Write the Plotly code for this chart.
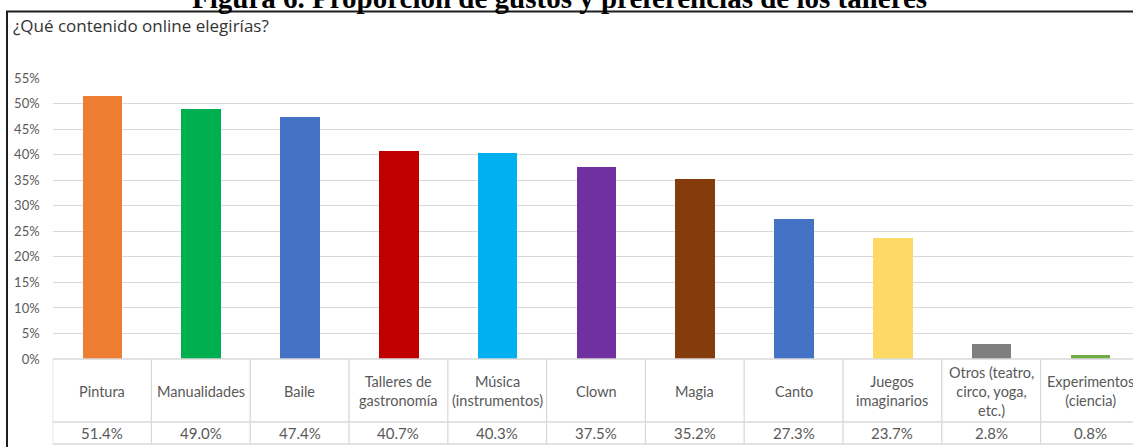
import plotly.graph_objects as go

# ---------------- data ----------------
categories = ["Pintura", "Manualidades", "Baile", "Talleres de gastronomía",
              "Música (instrumentos)", "Clown", "Magia", "Canto",
              "Juegos imaginarios", "Otros (teatro, circo, yoga, etc.)",
              "Experimentos (ciencia)"]
table_labels = ["Pintura", "Manualidades", "Baile", "Talleres de<br>gastronomía",
                "Música<br>(instrumentos)", "Clown", "Magia", "Canto",
                "Juegos<br>imaginarios", "Otros (teatro,<br>circo, yoga,<br>etc.)",
                "Experimentos<br>(ciencia)"]
values_pct = [51.4, 49.0, 47.4, 40.7, 40.3, 37.5, 35.2, 27.3, 23.7, 2.8, 0.8]
bar_colors = ["#ED7D31", "#00B050", "#4472C4", "#C00000", "#00B0F0", "#7030A0",
              "#843C0C", "#4472C4", "#FFD966", "#7F7F7F", "#70AD47"]
title_text = "Figura 6. Proporción de gustos y preferencias de los talleres"
subtitle_text = "¿Qué contenido online elegirías?"

# ---------------- geometry helpers ----------------
W, H = 1133, 447
def px(x):
    return x / W
def py(y):
    return 1 - y / H

plot_left = 52.6
cat_w = 98.8
x_range = [-0.5, -0.5 + (W - plot_left) / cat_w]
y_top_px, y_bot_px = 78.3, 359.0

TXT = "#595959"
GRID = "#D9D9D9"
FONT = "Lato, 'Open Sans', sans-serif"

fig = go.Figure()
fig.add_trace(go.Bar(
    x=list(range(len(categories))),
    y=[v / 100 for v in values_pct],
    marker=dict(color=bar_colors, line=dict(width=0)),
    width=0.4,
    hovertext=categories,
    showlegend=False,
))

shapes = []
# table horizontal lines
for yl in [y_bot_px, 422.0, 444.0]:
    shapes.append(dict(type="line", xref="x", yref="paper", x0=x_range[0], x1=x_range[1],
                       y0=py(yl), y1=py(yl), line=dict(color=GRID, width=1.3), layer="above"))
# table vertical lines
for i in range(len(categories) + 1):
    shapes.append(dict(type="line", xref="x", yref="paper", x0=i - 0.5, x1=i - 0.5,
                       y0=py(y_bot_px), y1=py(444.0), line=dict(color=GRID, width=1.3)))
# outer frame
shapes.append(dict(type="rect", xref="paper", yref="paper", x0=px(7), x1=px(W + 20),
                   y0=py(H + 20), y1=py(11.5), line=dict(color="#1E1E1E", width=2)))

annotations = []
for i, (lab, v) in enumerate(zip(table_labels, values_pct)):
    annotations.append(dict(x=i, y=py(391), xref="x", yref="paper", text=lab,
                            showarrow=False, xanchor="center", yanchor="middle",
                            font=dict(family=FONT, size=14.5, color=TXT)))
    annotations.append(dict(x=i, y=py(433), xref="x", yref="paper", text=f"{v:.1f}%",
                            showarrow=False, xanchor="center", yanchor="middle",
                            font=dict(family=FONT, size=15, color=TXT)))
annotations.append(dict(x=px(11), y=py(26), xref="paper", yref="paper", text=subtitle_text,
                        showarrow=False, xanchor="left", yanchor="middle",
                        font=dict(family="'Open Sans', sans-serif", size=17, color="#333333")))
annotations.append(dict(x=px(559), y=py(-2.0), xref="paper", yref="paper", text=f"<b>{title_text}</b>",
                        showarrow=False, xanchor="center", yanchor="middle",
                        font=dict(family="'Liberation Serif', 'Times New Roman', serif", size=29,
                                  color="#000000")))

fig.update_layout(
    width=W, height=H,
    margin=dict(l=0, r=0, t=0, b=0, autoexpand=False),
    paper_bgcolor="white", plot_bgcolor="white",
    shapes=shapes, annotations=annotations,
    bargap=0,
    xaxis=dict(domain=[px(plot_left), 1], range=x_range, showticklabels=False,
               showgrid=False, zeroline=False, showline=False, ticks="", automargin=False),
    yaxis=dict(domain=[py(y_bot_px), py(y_top_px)], range=[0, 0.55], dtick=0.05,
               tickformat=".0%", showgrid=True, gridcolor=GRID, gridwidth=1.3,
               zeroline=False, showline=False, ticks="", ticklabelstandoff=12,
               automargin=False,
               tickfont=dict(family=FONT, size=13, color=TXT)),
)

fig.write_html("out.html")
